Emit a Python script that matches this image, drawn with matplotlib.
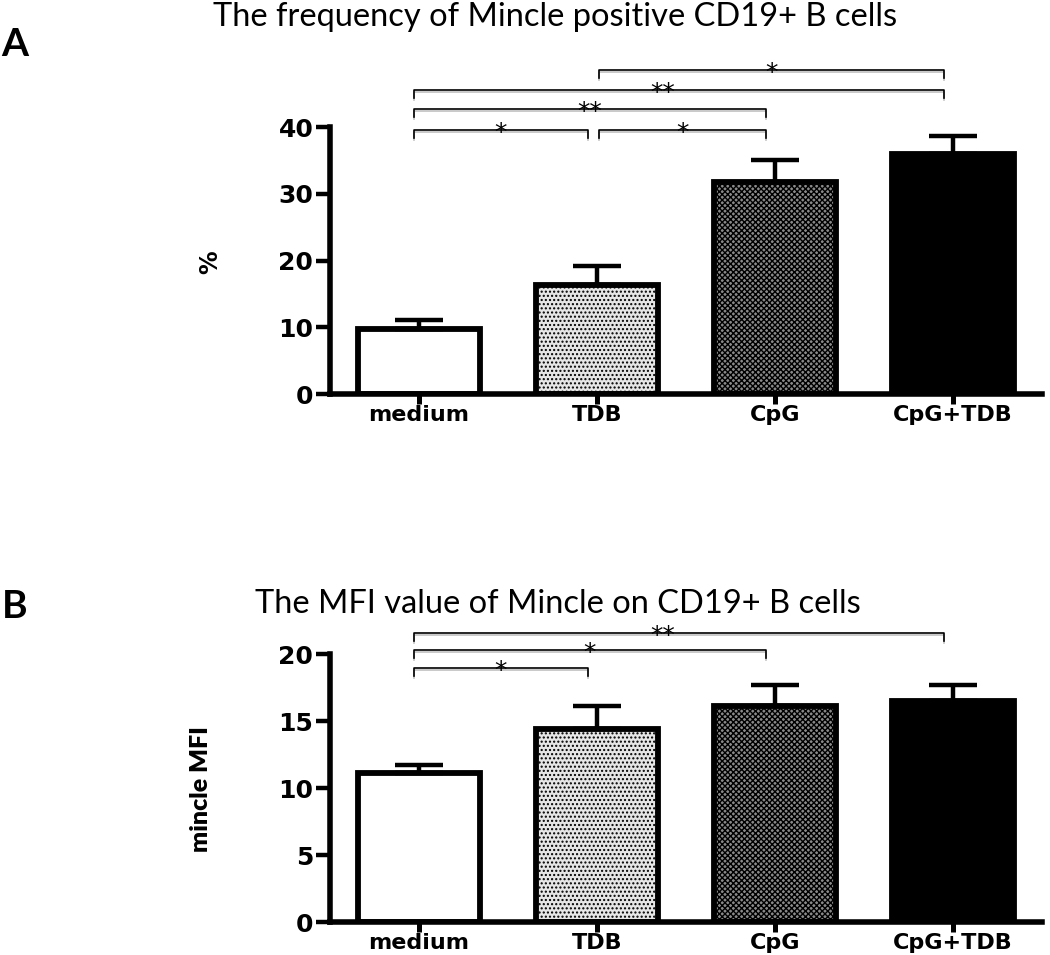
import matplotlib
matplotlib.use("Agg")
import matplotlib.pyplot as plt
import matplotlib.transforms as mtransforms
import numpy as np

categories = ['medium', 'TDB', 'CpG', 'CpG+TDB']
freq_mean = [9.8, 16.4, 31.7, 35.9]
freq_err = [1.3, 2.8, 3.3, 2.8]
mfi_mean = [11.1, 14.4, 16.1, 16.5]
mfi_err = [0.6, 1.7, 1.6, 1.2]

# significance brackets: (left, right, level, label)
freq_sig = [(0, 1, 39.6, '*'), (1, 2, 39.6, '*'), (0, 2, 42.7, '**'),
            (0, 3, 45.5, '**'), (1, 3, 48.6, '*')]
mfi_sig = [(0, 1, 18.96, '*'), (0, 2, 20.3, '*'), (0, 3, 21.56, '**')]

titles = ['The frequency of Mincle positive CD19+ B cells',
          'The MFI value of Mincle on CD19+ B cells']
ylabels = ['%', 'mincle MFI']
panel_letters = ['A', 'B']

W, H = 1050, 955
fig = plt.figure(figsize=(W / 100, H / 100), dpi=100)

plt.rcParams['hatch.linewidth'] = 1.0

faces = ['white', '#e6e6e6', '#8a8a8a', 'black']
hatches = [None, '....', 'xxxxxx', None]


def px_axes(left, right, top, bottom):
    return fig.add_axes([left / W, 1 - bottom / H, (right - left) / W, (bottom - top) / H])


def draw_panel(ax, means, errs, sig, ymax, ytop, yticks, tickdown):
    x = np.arange(len(categories))
    for i in range(len(categories)):
        ax.bar(x[i], means[i], width=0.69, color=faces[i], edgecolor='black',
               linewidth=4.2, hatch=hatches[i], zorder=2)
    ax.errorbar(x, means, yerr=[np.zeros(len(errs)), errs], fmt='none',
                ecolor='black', elinewidth=3.2, capsize=17, capthick=3.2, zorder=3)
    ax.set_xlim(-0.5, 3.5)
    ax.set_ylim(0, ytop)
    ax.set_yticks(yticks)
    ax.set_xticks(x)
    ax.set_xticklabels(categories)
    for s in ['top', 'right']:
        ax.spines[s].set_visible(False)
    ax.spines['left'].set_bounds(0, ymax)
    ax.spines['left'].set_linewidth(4.0)
    ax.spines['bottom'].set_linewidth(4.0)
    ax.tick_params(axis='y', which='major', length=10, width=3.2, direction='out',
                   labelsize=18, pad=2)
    ax.tick_params(axis='x', which='major', length=7, width=3.6, direction='out',
                   labelsize=16, pad=1)
    for lab in ax.get_xticklabels() + ax.get_yticklabels():
        lab.set_fontweight('bold')
        lab.set_family('DejaVu Sans')
    shadow = ax.transData + mtransforms.ScaledTranslation(0, -2 / 100, fig.dpi_scale_trans)
    for (a, b, lvl, lab) in sig:
        xa = a - 0.03 if a == 0 else a + 0.01
        xb = b - 0.05
        xs = [xa, xa, xb, xb]
        ys = [lvl - tickdown, lvl, lvl, lvl - tickdown]
        ax.plot(xs, ys, color='#c0c0c0', lw=1.2, transform=shadow, clip_on=False, zorder=4)
        ax.plot(xs, ys, color='black', lw=1.2, clip_on=False, zorder=5)
        sx = (xa + xb) / 2 if b - a < 3 else 1.37
        ax.annotate(lab, (sx, lvl), xytext=(0, -7.2), textcoords='offset points',
                    ha='center', va='baseline', fontsize=18, family='DejaVu Sans',
                    zorder=6, annotation_clip=False)


axA = px_axes(330, 1042, 47, 394)
draw_panel(axA, freq_mean, freq_err, freq_sig, 40, 52, [0, 10, 20, 30, 40], 1.2)
axB = px_axes(330, 1042, 614, 922)
draw_panel(axB, mfi_mean, mfi_err, mfi_sig, 20, 23, [0, 5, 10, 15, 20], 0.6)

fig.text(210 / W, 1 - 262 / H, ylabels[0], rotation=90, ha='center', va='center',
         fontsize=17, fontweight='bold', family='DejaVu Sans')
fig.text(201 / W, 1 - 789 / H, ylabels[1], rotation=90, ha='center', va='center',
         fontsize=18, fontweight='heavy', family='Lato')

fig.text(555 / W, 1 - 17 / H, titles[0], ha='center', va='center', fontsize=23.5,
         family='Lato')
fig.text(558 / W, 1 - 604 / H, titles[1], ha='center', va='center', fontsize=23.5,
         family='Lato')
fig.text(15 / W, 1 - 44 / H, panel_letters[0], ha='center', va='center', fontsize=28,
         fontweight='bold', family='Lato')
fig.text(15 / W, 1 - 607 / H, panel_letters[1], ha='center', va='center', fontsize=28,
         fontweight='bold', family='Lato')

fig.savefig('out.png', dpi=100)
